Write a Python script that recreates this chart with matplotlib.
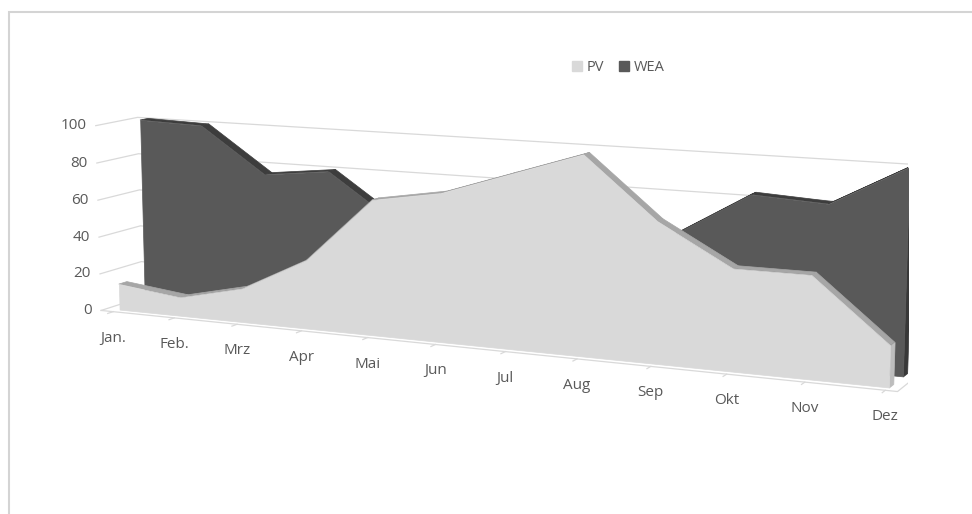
import numpy as np
import matplotlib.pyplot as plt
from matplotlib.patches import Patch, Rectangle
from mpl_toolkits.mplot3d import proj3d
from mpl_toolkits.mplot3d.art3d import Poly3DCollection

# monthly shares (percent of each series' maximum)
months = ['Jan.', 'Feb.', 'Mrz', 'Apr', 'Mai', 'Jun', 'Jul', 'Aug', 'Sep', 'Okt', 'Nov', 'Dez']
pv = [14, 10, 18, 36, 70, 76, 88, 100, 70, 50, 50, 20]
wea = [100, 99, 75, 79, 55, 50, 45, 45, 60, 82, 80, 100]
zticks = [0, 20, 40, 60, 80, 100]

plt.rcParams['font.family'] = ['Open Sans', 'DejaVu Sans']
txt = '#595959'
grid_c = '#d9d9d9'

x0, x1 = -0.2, 11.15   # category range incl. a little room at the walls
d0, d1 = 0.0, 0.78     # depth of the box


def slab(ax, vals, y0, y1, c_front, c_top, c_side, z):
    x = np.arange(len(vals))
    front = [[(x[i], y0, vals[i]) for i in range(len(vals))] + [(x[-1], y0, 0), (x[0], y0, 0)]]
    tops = []
    for i in range(len(vals) - 1):
        tops.append([(x[i], y0, vals[i]), (x[i + 1], y0, vals[i + 1]),
                     (x[i + 1], y1, vals[i + 1]), (x[i], y1, vals[i])])
    cap = [[(x[-1], y0, 0), (x[-1], y0, vals[-1]), (x[-1], y1, vals[-1]), (x[-1], y1, 0)]]
    for polys, col, dz in [(tops, c_top, 0), (cap, c_side, 1), (front, c_front, 2)]:
        pc = Poly3DCollection(polys, facecolor=col, edgecolor=col, linewidth=0.5)
        pc.set_zorder(z + dz)
        ax.add_collection3d(pc)


def label(ax, x, y, z, s, dx=0, dy=0, **kw):
    # place a flat label at the projected position of a 3D point
    px, py, _ = proj3d.proj_transform(x, y, z, ax.get_proj())
    disp = ax.transData.transform((px, py)) + np.array([dx, dy])
    fig.text(*fig.transFigure.inverted().transform(disp), s, color=txt, fontsize=11, **kw)


fig = plt.figure(figsize=(9.72, 5.14), dpi=100)
ax = fig.add_axes([-0.088, -0.341, 1.1505, 1.6914], projection='3d', computed_zorder=False)
ax.set_proj_type('persp', focal_length=0.5)
ax.view_init(elev=10, azim=-65)
ax.set_box_aspect((9.4, 0.86, 2.15))
ax.set_xlim(x0, x1)
ax.set_ylim(d0, d1)
ax.set_zlim(0, 100)
ax.set_axis_off()

# walls: gridlines on side wall and back wall
for v in zticks:
    ax.plot([x0, x0, x1], [d0, d1, d1], [v, v, v], color=grid_c, lw=0.9, zorder=1)
# floor edges and category ticks
ax.plot([x0, x1, x1], [d0, d0, d1], [0, 0, 0], color=grid_c, lw=0.9, zorder=1)
for i in range(len(months)):
    ax.plot([i, i], [d0, d0 - 0.1], [0, 0], color=grid_c, lw=0.9, zorder=1)

slab(ax, wea, 0.6, 0.75, '#595959', '#3d3d3d', '#383838', 10)
slab(ax, pv, 0.12, 0.27, '#d9d9d9', '#a6a6a6', '#bdbdbd', 20)

fig.canvas.draw()
for v in zticks:
    label(ax, x0, d0, v, str(v), dx=-9, ha='right', va='center')
for i, m in enumerate(months):
    label(ax, i, d0, 0, m, dy=-19, ha='center', va='top')

handles = [Patch(color='#d9d9d9', label='PV'), Patch(color='#595959', label='WEA')]
fig.legend(handles=handles, loc='center', bbox_to_anchor=(0.636, 0.868), ncol=2,
           frameon=False, fontsize=10.5, labelcolor=txt, handlelength=0.7, handleheight=0.7,
           columnspacing=1.0, handletextpad=0.3)

# chart area border
fig.patches.append(Rectangle((0.0095, -0.1), 1.1, 1.1 - 0.024, transform=fig.transFigure,
                             fill=False, edgecolor='#d4d4d4', linewidth=1.5))

fig.savefig('out.png', dpi=100)
